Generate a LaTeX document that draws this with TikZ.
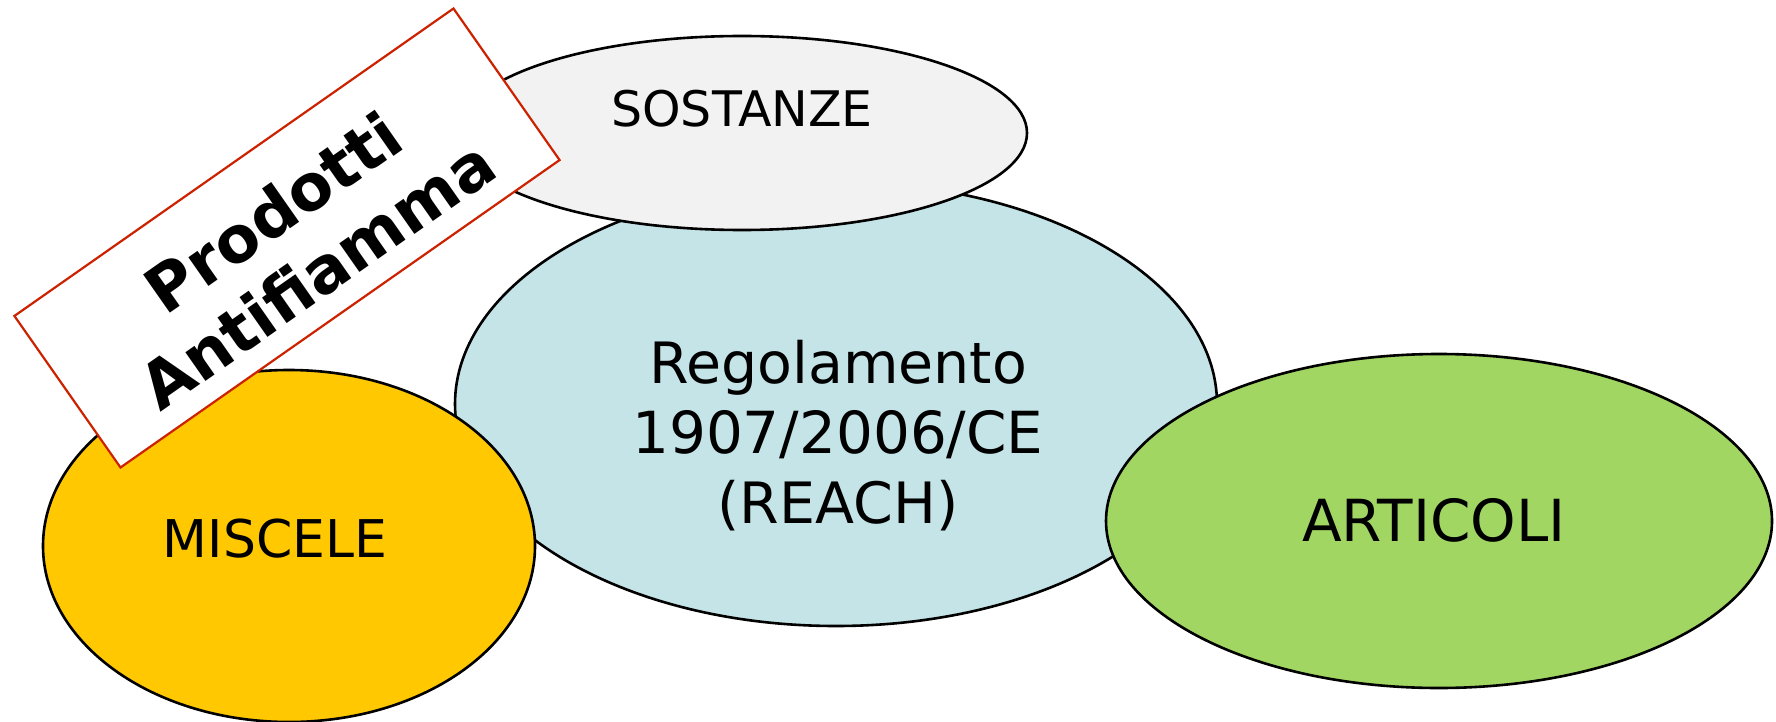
\documentclass[tikz,border=0pt]{standalone}
\usepackage{fontspec}
\setmainfont{DejaVu Sans}
\usetikzlibrary{shapes.geometric}
\definecolor{reachblue}{HTML}{C5E4E8}
\definecolor{sostgray}{HTML}{F2F2F2}
\definecolor{miscyellow}{HTML}{FFC800}
\definecolor{artgreen}{HTML}{A2D663}
\definecolor{tagred}{HTML}{CC2200}
\begin{document}
\begin{tikzpicture}[x=1pt,y=-1pt,
  blob/.style={ellipse, draw=black, line width=2.6pt, inner sep=0pt},
  lbl/.style={anchor=base, inner sep=0pt, text=black},
  tagbox/.style={rectangle, draw=tagred, line width=2.2pt, fill=white, rotate=35,
    minimum width=536pt, minimum height=185pt, inner sep=0pt},
  tagtext/.style={rotate=35, align=center, inner sep=0pt,
    font=\bfseries\fontsize{64}{76}\selectfont}]
\useasboundingbox (0,0) rectangle (1776,722);
\node[blob, fill=reachblue, minimum width=762pt, minimum height=444pt] (reach) at (836,404) {};
\node[blob, fill=sostgray, minimum width=570pt, minimum height=194pt] (sost) at (742,133) {};
\node[blob, fill=miscyellow, minimum width=492pt, minimum height=352pt] (misc) at (289,546) {};
\node[blob, fill=artgreen, minimum width=666pt, minimum height=334pt] (art) at (1439,521) {};
\node[lbl, font=\fontsize{49}{58}\selectfont] (tsost) at (742,127) {SOSTANZE};
\node[lbl, font=\fontsize{57}{70}\selectfont] (treg1) at (838,383) {Regolamento};
\node[lbl, font=\fontsize{58}{70}\selectfont] (treg2) at (838,453) {1907/2006/CE};
\node[lbl, font=\fontsize{57}{70}\selectfont] (treg3) at (838,523) {(REACH)};
\node[lbl, font=\fontsize{52}{60}\selectfont] (tmisc) at (275,557) {MISCELE};
\node[lbl, font=\fontsize{58}{68}\selectfont] (tart) at (1434,541) {ARTICOLI};
\node[tagbox] (tag) at (287,238) {};
\node[tagtext] (tagt) at (295,243) {Prodotti\\Antifiamma};
\end{tikzpicture}
\end{document}
